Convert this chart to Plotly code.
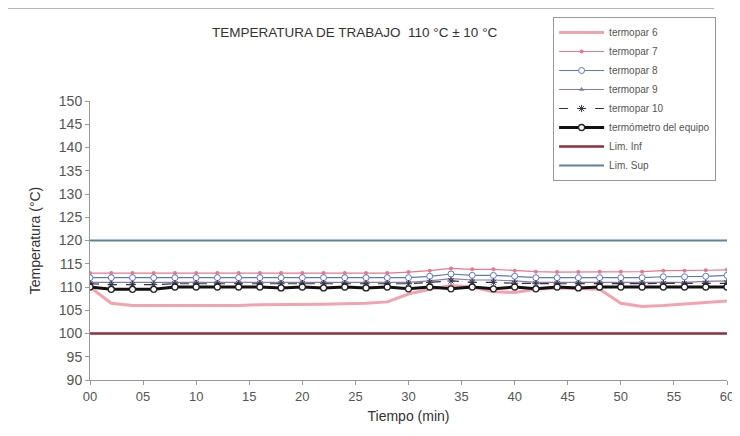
import plotly.graph_objects as go

tiempo = list(range(0, 61, 2))
termopar6 = [110, 106.5, 106, 106, 106, 106, 106, 106, 106.2, 106.2, 106.3, 106.3, 106.4, 106.5, 106.8, 108.5,
             109.5, 110.3, 110, 109, 108.8, 109.5, 109.8, 109.6, 109.5, 106.5, 105.8, 106, 106.3, 106.6, 107]
termopar7 = [113, 113, 113, 113, 113, 113, 113, 113, 113, 113, 113, 113, 113, 113, 113, 113.2,
             113.5, 114, 113.8, 113.8, 113.5, 113.3, 113.2, 113.2, 113.3, 113.3, 113.3, 113.5, 113.5, 113.6, 113.7]
termopar8 = [112, 112, 112, 112, 112, 112, 112, 112, 112, 112, 112, 112, 112, 112, 112, 112,
             112.3, 112.8, 112.5, 112.5, 112.3, 112, 112, 112, 112, 112, 112, 112.2, 112.2, 112.3, 112.5]
termopar9 = [111, 111, 111, 111, 111, 111, 111, 111, 111, 111, 111, 111, 111, 111, 111, 111,
             111.3, 111.8, 111.5, 111.5, 111.3, 111, 111, 111, 111, 111, 111, 111, 111, 111.2, 111.3]
termopar10 = [110.7, 110.5, 110.5, 110.5, 110.7, 110.7, 110.7, 110.7, 110.7, 110.7, 110.7, 110.7, 110.7, 110.7, 110.7, 110.7,
              111, 111.3, 111, 111, 110.8, 110.7, 110.7, 110.7, 110.7, 110.7, 110.7, 110.7, 110.7, 110.8, 110.8]
termometro = [110, 109.5, 109.5, 109.5, 110, 110, 110, 110, 110, 109.8, 110, 109.8, 110, 109.8, 110, 109.6,
              110, 109.6, 110, 109.6, 110, 109.6, 110, 109.8, 110, 110, 110, 110, 110, 110, 110]
lim_inf = [100] * len(tiempo)
lim_sup = [120] * len(tiempo)

x_ticks = list(range(0, 61, 5))
x_labels = ["%02d" % v for v in x_ticks]
y_ticks = list(range(90, 151, 5))

fig = go.Figure()

fig.add_trace(go.Scatter(x=tiempo, y=termopar6, name="termopar 6", mode="lines",
                         line=dict(color="#f3a3ad", width=3)))
fig.add_trace(go.Scatter(x=tiempo, y=termopar7, name="termopar 7", mode="lines+markers",
                         line=dict(color="#e8788a", width=1.2),
                         marker=dict(symbol="circle", size=4, color="#e8788a")))
fig.add_trace(go.Scatter(x=tiempo, y=termopar8, name="termopar 8", mode="lines+markers",
                         line=dict(color="#5a78c8", width=1.2),
                         marker=dict(symbol="circle", size=6, color="white",
                                     line=dict(color="#5a78c8", width=1))))
fig.add_trace(go.Scatter(x=tiempo, y=termopar9, name="termopar 9", mode="lines+markers",
                         line=dict(color="#8a7aa8", width=1.2),
                         marker=dict(symbol="triangle-up", size=5, color="#8a7aa8")))
fig.add_trace(go.Scatter(x=tiempo, y=termopar10, name="termopar 10", mode="lines+markers",
                         line=dict(color="#333344", width=1.2, dash="dash"),
                         marker=dict(symbol="asterisk-open", size=6, color="#333344",
                                     line=dict(color="#333344", width=1))))
fig.add_trace(go.Scatter(x=tiempo, y=termometro, name="termómetro del equipo", mode="lines+markers",
                         line=dict(color="#111111", width=3),
                         marker=dict(symbol="circle", size=6, color="white",
                                     line=dict(color="#222222", width=1.3))))
fig.add_trace(go.Scatter(x=tiempo, y=lim_inf, name="Lim. Inf", mode="lines",
                         line=dict(color="#8e3042", width=2.5)))
fig.add_trace(go.Scatter(x=tiempo, y=lim_sup, name="Lim. Sup", mode="lines",
                         line=dict(color="#5f8498", width=2)))

fig.add_annotation(text="TEMPERATURA DE TRABAJO  110 \u00b0C \u00b1 10 \u00b0C",
                   xref="paper", yref="paper", x=0.416, y=1.244, yanchor="middle",
                   showarrow=False, font=dict(size=13.5, color="#333333"))

# thin scan border line at the top of the page
fig.add_shape(type="line", xref="paper", yref="paper", x0=-0.13, x1=0.98, y0=1.332, y1=1.332,
              line=dict(color="#aaaaaa", width=1))

# the page body adds an 8 px offset, so the figure is 732x428 with margins shifted by 8 px
fig.update_layout(
    width=732, height=428,
    margin=dict(l=82, r=13, t=93, b=56, autoexpand=False),
    paper_bgcolor="white", plot_bgcolor="white",
    font=dict(family="Liberation Sans, Arial, sans-serif", color="#444444"),
    showlegend=True,
    legend=dict(x=0.727, y=1.301, xanchor="left", yanchor="top",
                bordercolor="#999999", borderwidth=1, bgcolor="white",
                font=dict(size=10, color="#555555"), itemwidth=45, tracegroupgap=0),
    xaxis=dict(range=[0, 60], tickvals=x_ticks, ticktext=x_labels, automargin=False,
               showgrid=False, zeroline=False, showline=True, linecolor="#999999",
               ticks="outside", ticklen=4, tickcolor="#999999",
               tickfont=dict(size=13, color="#555555"),
               title=dict(text="Tiempo (min)", font=dict(size=14, color="#333333"), standoff=8)),
    yaxis=dict(range=[90, 150], tickvals=y_ticks, automargin=False,
               showgrid=False, zeroline=False, showline=True, linecolor="#999999",
               ticks="outside", ticklen=4, tickcolor="#999999",
               tickfont=dict(size=14, color="#555555"),
               title=dict(text="Temperatura (\u00b0C)", font=dict(size=14, color="#333333"), standoff=14)),
)

fig.write_html("out.html")
